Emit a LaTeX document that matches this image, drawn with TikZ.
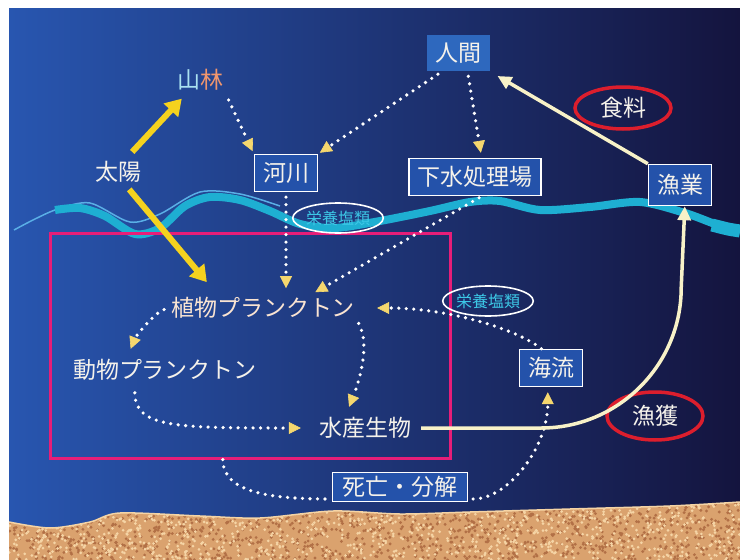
\documentclass[tikz,border=0pt]{standalone}
\usepackage{fontspec}
\newfontfamily\jpfont{Noto Sans CJK JP}
\usetikzlibrary{arrows.meta, calc, shapes.geometric}

\newcommand{\labelfont}{\jpfont\fontsize{23}{27}\selectfont}
\newcommand{\nutrientfont}{\jpfont\fontsize{16}{19}\selectfont}

\definecolor{seaLeft}{RGB}{40,86,176}
\definecolor{seaMid}{RGB}{32,60,150}
\definecolor{seaRight}{RGB}{20,20,62}
\definecolor{boxblue}{RGB}{36,82,170}
\definecolor{humanblue}{RGB}{46,104,190}
\definecolor{cream}{RGB}{248,242,200}
\definecolor{labelwhite}{RGB}{245,242,235}
\definecolor{planktonpink}{RGB}{250,228,210}
\definecolor{sunyellow}{RGB}{245,210,30}
\definecolor{tipyellow}{RGB}{245,215,110}
\definecolor{ovalred}{RGB}{220,30,45}
\definecolor{framepink}{RGB}{230,30,120}
\definecolor{wavecyan}{RGB}{30,175,210}
\definecolor{waveline}{RGB}{90,175,230}
\definecolor{nutrientcyan}{RGB}{60,200,230}
\definecolor{sand}{RGB}{218,162,110}
\definecolor{sandDark}{RGB}{178,112,70}
\definecolor{sandLight}{RGB}{245,212,165}
\definecolor{mountA}{RGB}{170,225,240}
\definecolor{mountB}{RGB}{240,150,110}

\begin{document}
\begin{tikzpicture}[
		x=1pt, y=-1pt,
		every node/.style={font=\labelfont, text=labelwhite},
		% boxed labels
		labelbox/.style={draw=white, line width=1.3pt, fill=boxblue, inner xsep=8.5pt, inner ysep=8pt},
		humanbox/.style={fill=humanblue, inner xsep=8.5pt, inner ysep=8pt},
		freelabel/.style={inner sep=2pt},
		% ovals
		nutrientoval/.style={ellipse, draw=white, line width=1.6pt, minimum width=90pt, minimum height=30pt, inner sep=0pt, font=\nutrientfont, text=nutrientcyan},
		redoval/.style={ellipse, draw=ovalred, line width=3.5pt, minimum width=96pt, minimum height=42pt, inner sep=0pt},
		% arrows
		sunarrow/.style={-{Triangle[length=16pt,width=19pt]}, line width=6pt, draw=sunyellow},
		dotline/.style={draw=white, line width=3.6pt, line cap=round, dash pattern=on 0pt off 7.5pt},
		dotarrow/.style={dotline, -{Triangle[length=12pt,width=12pt,color=tipyellow,line width=0.6pt]}},
		catcharrow/.style={-{Triangle[length=14pt,width=13pt]}, line width=3.5pt, draw=cream}
		]
		
		\useasboundingbox (0,0) rectangle (740,560);
		
		% === BACKGROUND ===
		\fill[white] (0,0) rectangle (740,560);
		\shade[left color=seaLeft, middle color=seaMid, right color=seaRight] (9,8) rectangle (740,560);
		
		% sea floor
		\begin{scope}
			\clip plot[smooth] coordinates {(9,522) (50,528) (90,522) (120,513) (200,516) (260,518) (333,511) (400,514) (470,512) (570,509) (670,506) (740,502)} -- (740,560) -- (9,560) -- cycle;
			\fill[sand] (9,490) rectangle (740,560);
			\pgfmathsetseed{42}
			\foreach \i in {1,...,1400} {
				\pgfmathsetmacro{\sx}{9+rnd*731}
				\pgfmathsetmacro{\sy}{495+rnd*65}
				\fill[sandDark] (\sx,\sy) circle (1.6pt);
			}
			\foreach \i in {1,...,1200} {
				\pgfmathsetmacro{\sx}{9+rnd*731}
				\pgfmathsetmacro{\sy}{495+rnd*65}
				\fill[sandLight] (\sx,\sy) circle (1.5pt);
			}
		\end{scope}
		\draw[sandLight, line width=1.5pt] plot[smooth] coordinates {(9,522) (50,528) (90,522) (120,513) (200,516) (260,518) (333,511) (400,514) (470,512) (570,509) (670,506) (740,502)};
		
		% sea surface
		\draw[waveline, line width=1.5pt] plot[smooth] coordinates {(14,230) (35,219) (58,209) (90,203) (130,222) (160,214) (200,192) (240,194) (280,206)};
		\draw[wavecyan, line width=8pt] plot[smooth] coordinates {(55,210) (80,208) (105,216) (135,234) (160,228) (185,206) (210,197) (240,200) (270,211) (300,224) (335,228) (380,221) (430,211) (470,202) (500,201) (540,210) (590,207) (640,202) (685,213) (715,224) (740,232)};
		\draw[wavecyan, line width=13pt] plot[smooth] coordinates {(712,225) (728,229) (740,231)};
		
		% === NODES ===
		
		% frame round the ecosystem
		\node[draw=framepink, line width=3pt, minimum width=400pt, minimum height=225pt, inner sep=0pt] (ecosystem) at (250,345.5) {};
		
		% land side
		\node[freelabel] (sanrin) at (200,80) {{\color{mountA}山}{\color{mountB}林}};
		\node[freelabel] (taiyo) at (118,172) {太陽};
		\node[labelbox] (kasen) at (286,173) {河川};
		\node[humanbox] (ningen) at (458,53) {人間};
		\node[labelbox] (gesui) at (475,177) {下水処理場};
		\node[labelbox, inner ysep=10pt] (gyogyo) at (680,185) {漁業};
		\node[redoval] (shokuryo) at (623,108) {食料};
		
		% sea side
		\node[nutrientoval] (eiyoTop) at (338,218) {栄養塩類};
		\node[nutrientoval] (eiyoBottom) at (488,301) {栄養塩類};
		\node[freelabel, text=planktonpink] (shokubutsu) at (263,308) {植物プランクトン};
		\node[freelabel] (dobutsu) at (165,370) {動物プランクトン};
		\node[freelabel] (suisan) at (365,428) {水産生物};
		\node[labelbox] (kairyu) at (551,368) {海流};
		\node[redoval, minimum height=48pt] (gyokaku) at (655,416) {漁獲};
		\node[labelbox, inner xsep=10pt, inner ysep=4pt] (shibo) at (400,487) {死亡・分解};
		
		% === SUNLIGHT ===
		\draw[sunarrow, shorten <=10pt, shorten >=8pt] (taiyo.60) -- (sanrin.225);
		\draw[sunarrow, shorten <=6pt, shorten >=17pt] (taiyo.-60) -- ($(shokubutsu.north west)!0.26!(shokubutsu.north east)$);
		
		% === NUTRIENT FLOW (dotted) ===
		\draw[dotarrow, shorten <=8pt, shorten >=3pt] (sanrin.south east) -- (kasen.north west);
		\draw[dotarrow, shorten <=5pt, shorten >=2pt] ($(ningen.south west)!0.25!(ningen.south east)$) -- (kasen.north east);
		\draw[dotarrow, shorten <=5pt, shorten >=5pt] ($(ningen.south)!0.3!(ningen.south east)$) -- ($(gesui.north)!0.1!(gesui.north east)$);
		\draw[dotarrow, shorten <=5pt, shorten >=7pt] (kasen.south) -- (kasen.south |- shokubutsu.north);
		\draw[dotarrow, shorten <=3pt, shorten >=6pt] ($(gesui.south west)!0.55!(gesui.south east)$) -- ($(shokubutsu.north west)!0.75!(shokubutsu.north east)$);
		
		% food chain
		\draw[dotarrow, shorten <=5pt, shorten >=9pt] (shokubutsu.west) .. controls +(-15,5) and +(8,-20) .. ($(dobutsu.north west)!0.3!(dobutsu.north east)$);
		\draw[dotarrow, shorten <=3pt, shorten >=9pt] (shokubutsu.south east) .. controls +(14,25) and +(12,-30) .. ($(suisan.north west)!0.3!(suisan.north east)$);
		\draw[dotarrow, shorten <=10pt, shorten >=16pt] ($(dobutsu.south west)!0.34!(dobutsu.south east)$) .. controls +(0,45) and +(-140,0) .. (suisan.west);
		
		% decomposition and current
		\draw[dotline] ($(ecosystem.south west)!0.4325!(ecosystem.south east)$) .. controls +(0,35) and +(-55,0) .. (shibo.190);
		\draw[dotarrow, shorten <=5pt, shorten >=5pt] (shibo.-10) .. controls +(40,0) and +(0,60) .. ($(kairyu.south west)!0.45!(kairyu.south east)$);
		\draw[dotarrow, shorten >=20pt] ($(kairyu.north west)!0.35!(kairyu.north east)$) .. controls +(-25,-20) and +(90,0) .. (shokubutsu.east);
		
		% === FISHERY ===
		\draw[catcharrow, shorten <=8pt] (suisan.east) -- ++(128,0) .. controls +(77,0) and +(0,77) .. ++(140,-140) -- ($(gyogyo.south)!0.15!(gyogyo.south east)$);
		\draw[catcharrow, shorten >=9pt] (gyogyo.north west) -- (ningen.south east);
		
	\end{tikzpicture}
\end{document}
